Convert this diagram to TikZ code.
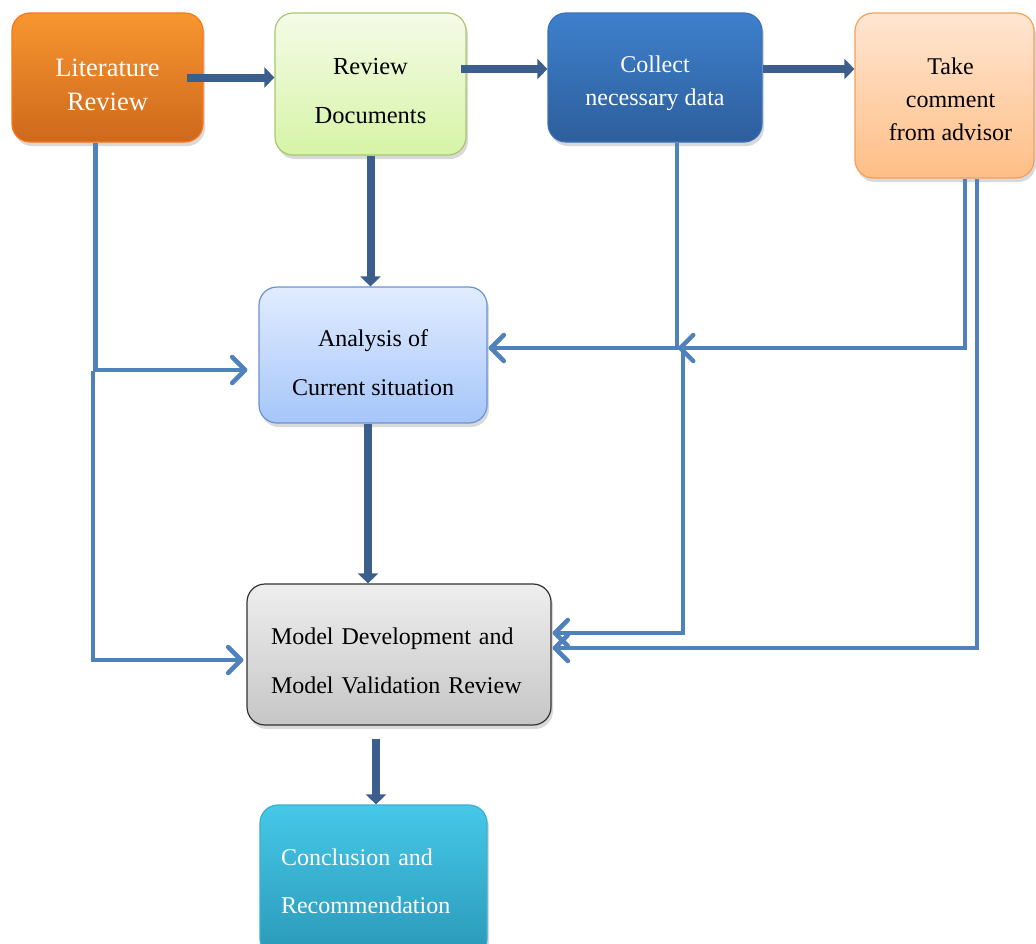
\documentclass[tikz,border=0pt]{standalone}
\usepackage{fontspec}
\setmainfont{Liberation Serif}
\usetikzlibrary{arrows.meta,shadows}

\definecolor{flowdark}{HTML}{3B5E8C}
\definecolor{feedblue}{HTML}{4F81BD}
% invisible rule that sets the height of a box's first text line
\newcommand\padtop[1]{\rule{0pt}{#1}}

\begin{document}
\begin{tikzpicture}[x=1pt,y=-1pt,
  box/.style={rounded corners=18pt, line width=1.2pt, inner sep=0pt, align=center,
    drop shadow={opacity=0.3, shadow xshift=2pt, shadow yshift=-4pt}},
  tight/.style={font=\fontsize{24}{33}\selectfont},
  loose/.style={font=\fontsize{24}{49}\selectfont},
  flow/.style={draw=flowdark, line width=8pt, -{Triangle[length=10pt,width=20pt]}},
  feed/.style={draw=feedblue, line width=4.5pt, -{Straight Barb[length=13pt,width=26pt,round]}}
]
\useasboundingbox (0,0) rectangle (1036,943);

% process boxes
\node[box, font=\fontsize{26.5}{34}\selectfont, minimum width=191pt, minimum height=129pt, text=white,
  draw=orange!80!red!90!white, top color={rgb,255:red,248;green,150;blue,48},
  bottom color={rgb,255:red,206;green,104;blue,28}] (lit) at (107.5,77.5) {\padtop{32pt}Literature\\Review};

\node[box, font=\fontsize{24.5}{49}\selectfont, minimum width=191pt, minimum height=142pt,
  draw={rgb,255:red,168;green,200;blue,112}, top color={rgb,255:red,245;green,251;blue,232},
  bottom color={rgb,255:red,214;green,244;blue,166}] (doc) at (370.5,84) {\padtop{31pt}Review\\Documents};

\node[box, tight, minimum width=214pt, minimum height=129pt, text=white,
  draw={rgb,255:red,58;green,112;blue,184}, top color={rgb,255:red,62;green,128;blue,204},
  bottom color={rgb,255:red,45;green,94;blue,156}] (col) at (655,77.5) {\padtop{28.5pt}Collect\\necessary data};

\node[box, tight, minimum width=179pt, minimum height=165pt,
  draw={rgb,255:red,245;green,160;blue,90}, top color={rgb,255:red,255;green,230;blue,210},
  bottom color={rgb,255:red,255;green,190;blue,134}] (adv) at (944.5,95.5) {\padtop{24.5pt}\hspace*{12pt}Take\\\hspace*{12pt}comment\\\hspace*{12pt}from advisor};

\node[box, loose, minimum width=228pt, minimum height=136pt,
  draw={rgb,255:red,106;green,146;blue,208}, top color={rgb,255:red,226;green,236;blue,255},
  bottom color={rgb,255:red,165;green,198;blue,250}] (ana) at (373,355) {\padtop{32.5pt}Analysis of\\Current situation};

\node[box, loose, text height=29pt, align=left, text width=256pt, minimum width=304pt, minimum height=141pt,
  draw={rgb,255:red,50;green,50;blue,50}, top color={rgb,255:red,238;green,238;blue,238},
  bottom color={rgb,255:red,198;green,198;blue,198}] (mod) at (399,654.5) {Model Development and\\Model Validation Review};

\node[box, align=left, text width=185pt, font=\fontsize{24}{48}\selectfont, minimum width=227pt, minimum height=152pt, text=white,
  draw={rgb,255:red,58;green,176;blue,208}, top color={rgb,255:red,70;green,200;blue,232},
  bottom color={rgb,255:red,42;green,152;blue,184}] (con) at (373.5,881) {Conclusion and\\Recommendation};

% main sequence
\draw[flow] ([xshift=-17pt]lit.east) -- (lit.east -| doc.west);
\draw[flow] ([xshift=-6pt,yshift=15pt]doc.east) -- ([yshift=15pt]doc.east -| col.west);
\draw[flow] ([yshift=8.5pt]col.east) -- ([yshift=8.5pt]col.east -| adv.west);
\draw[flow] (doc.south) -- (doc.south |- ana.north);
\draw[flow] ([xshift=-5pt]ana.south) -- ([xshift=-5pt]mod.north -| ana.south);
\draw[flow] ([xshift=-23pt,yshift=-13pt]mod.south) -- ([xshift=-23pt]mod.south |- con.north);

% feedback inputs
\coordinate (cross) at (678,348);
\draw[feed] ([xshift=-12pt]lit.south) |- ([xshift=-11pt,yshift=-15pt]ana.west);
\draw[feed] ([xshift=-14.5pt,yshift=-228pt]lit.south) |- ([xshift=-3pt,yshift=-5.5pt]mod.west);
\draw[feed] ([xshift=22pt]col.south) |- ([xshift=1pt,yshift=7pt]ana.east);
\draw[feed] ([xshift=20.5pt]adv.south) |- (cross);
\draw[feed] ([xshift=28pt,yshift=-206pt]col.south) |- ([xshift=1pt,yshift=21.5pt]mod.east);
\draw[feed] ([xshift=32.5pt]adv.south) |- ([xshift=1pt,yshift=6.5pt]mod.east);
\end{tikzpicture}
\end{document}
